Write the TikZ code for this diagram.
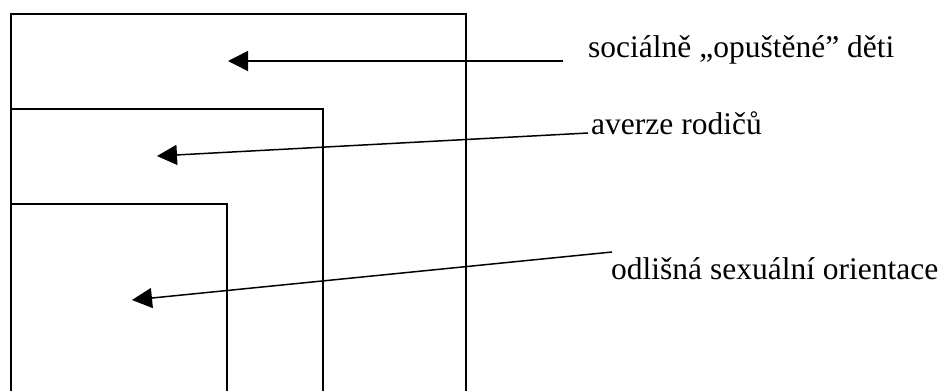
\documentclass[tikz,border=0pt]{standalone}
\usepackage{fontspec}
\setmainfont{Liberation Serif}
\usetikzlibrary{arrows.meta}
\begin{document}
\begin{tikzpicture}[x=1pt,y=-1pt,
  frame/.style={line width=1.4pt, line join=miter},
  pointer/.style={line width=1.5pt, -{Triangle[length=20pt,width=20pt]}},
  lbl/.style={anchor=base west, inner sep=0pt, font=\fontsize{31.5}{36}\selectfont}]
\useasboundingbox (0,0) rectangle (944,391);
% nested boxes (open at the bottom)
\draw[frame] (11,391) -- (11,14) -- (466,14) -- (466,391);
\draw[frame] (11,109) -- (323,109) -- (323,391);
\draw[frame] (11,204) -- (227,204) -- (227,391);
% labels
\node[lbl] (t1) at (588,57) {sociálně „opuštěné” děti};
\node[lbl] (t2) at (591,134) {averze rodičů};
\node[lbl] (t3) at (611,279) {odlišná sexuální orientace};
% arrow ends
\coordinate (s1) at (563,61);
\coordinate (e1) at (228,61);
\coordinate (s2) at (588,133);
\coordinate (e2) at (157,156);
\coordinate (s3) at (612,252);
\coordinate (e3) at (132,300);
\draw[pointer] (s1) -- (e1);
\draw[pointer] (s2) -- (e2);
\draw[pointer] (s3) -- (e3);
\end{tikzpicture}
\end{document}
